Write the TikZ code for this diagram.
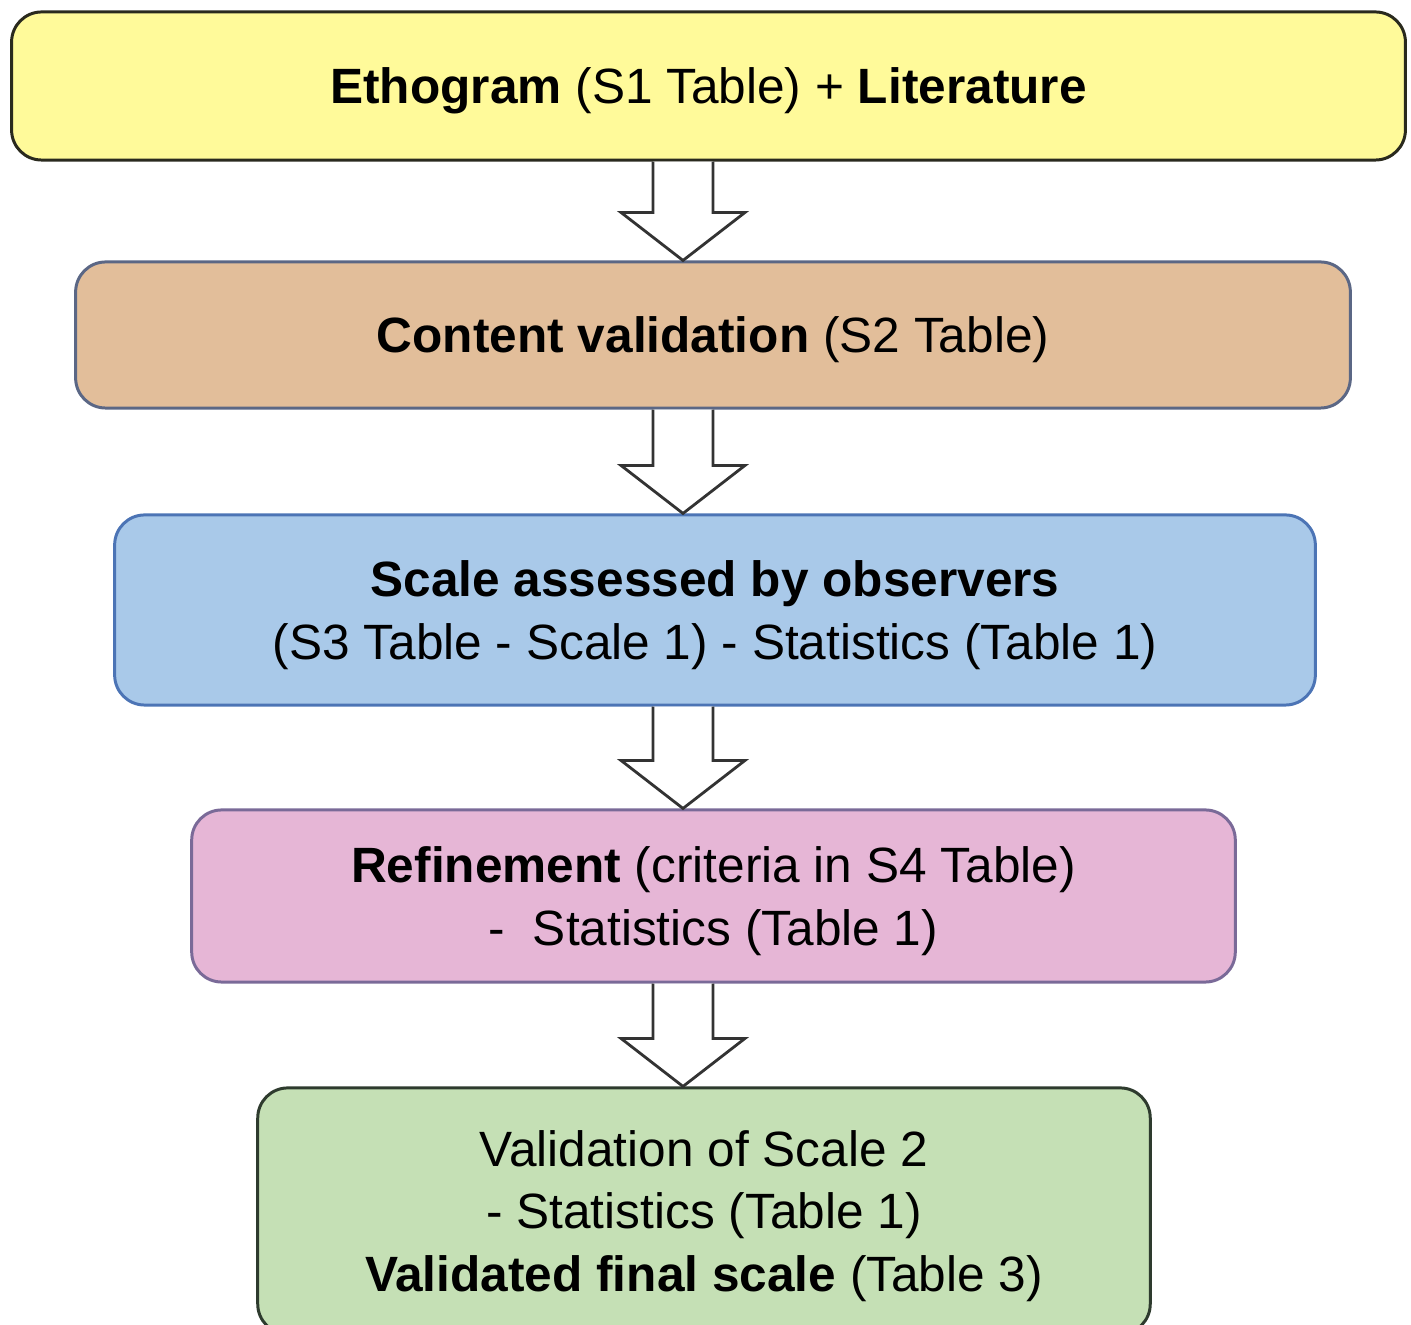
\documentclass[tikz,border=0pt]{standalone}
\usepackage{fontspec}
\setmainfont{Liberation Sans}
\usetikzlibrary{calc}

\definecolor{ethofill}{HTML}{FFFA9A}
\definecolor{ethodraw}{HTML}{2A2A1E}
\definecolor{contfill}{HTML}{E2BE9A}
\definecolor{contdraw}{HTML}{5B6785}
\definecolor{scalefill}{HTML}{A9C9E9}
\definecolor{scaledraw}{HTML}{4C74B5}
\definecolor{refinefill}{HTML}{E6B6D6}
\definecolor{refinedraw}{HTML}{7A6A98}
\definecolor{validfill}{HTML}{C5E0B5}
\definecolor{validdraw}{HTML}{2E3B2E}

% block arrow from the bottom of #1 to the top of #2
\newcommand\flowarrow[2]{%
  \draw[arrowline] ($(ax |- #1.south)+(-30,0)$) -- ($(ax |- #2.north)+(-30,-48)$)
    -- ++(-32,0) -- (ax |- #2.north) -- ++(62,-48) -- ++(-32,0)
    -- ($(ax |- #1.south)+(30,0)$);}

\begin{document}
\begin{tikzpicture}[x=0.01cm,y=-0.01cm,
  box/.style={draw,line width=0.85pt,rounded corners=0.3cm,align=center,inner sep=0pt,
    text depth=0pt,font=\fontsize{14.1}{17.9}\selectfont},
  arrowline/.style={draw=black!80,line width=0.8pt,fill=white,line join=miter}]
\clip (0,0) rectangle (1411,1325);

\node[box,fill=ethofill,draw=ethodraw,minimum width=13.93cm,minimum height=1.48cm] (etho) at (708.5,86)
  {\textbf{Ethogram} (S1 Table) + \textbf{Literature}};
\node[box,fill=contfill,draw=contdraw,minimum width=12.74cm,minimum height=1.46cm] (content) at (713,335)
  {\textbf{Content validation} (S2 Table)};
\node[box,fill=scalefill,draw=scaledraw,minimum width=12cm,minimum height=1.9cm] (scale) at (715,610)
  {\textbf{Scale assessed by observers}\\(S3 Table - Scale 1) - Statistics (Table 1)};
\node[box,fill=refinefill,draw=refinedraw,minimum width=10.43cm,minimum height=1.72cm] (refine) at (713.5,896)
  {\textbf{Refinement} (criteria in S4 Table)\\-~~Statistics (Table 1)};
\node[box,fill=validfill,draw=validdraw,minimum width=8.92cm,minimum height=2.46cm] (valid) at (704,1211)
  {Validation of Scale 2\\- Statistics (Table 1)\\\textbf{Validated final scale} (Table 3)};

\coordinate (ax) at (683,0);
\flowarrow{etho}{content}
\flowarrow{content}{scale}
\flowarrow{scale}{refine}
\flowarrow{refine}{valid}
\end{tikzpicture}
\end{document}
